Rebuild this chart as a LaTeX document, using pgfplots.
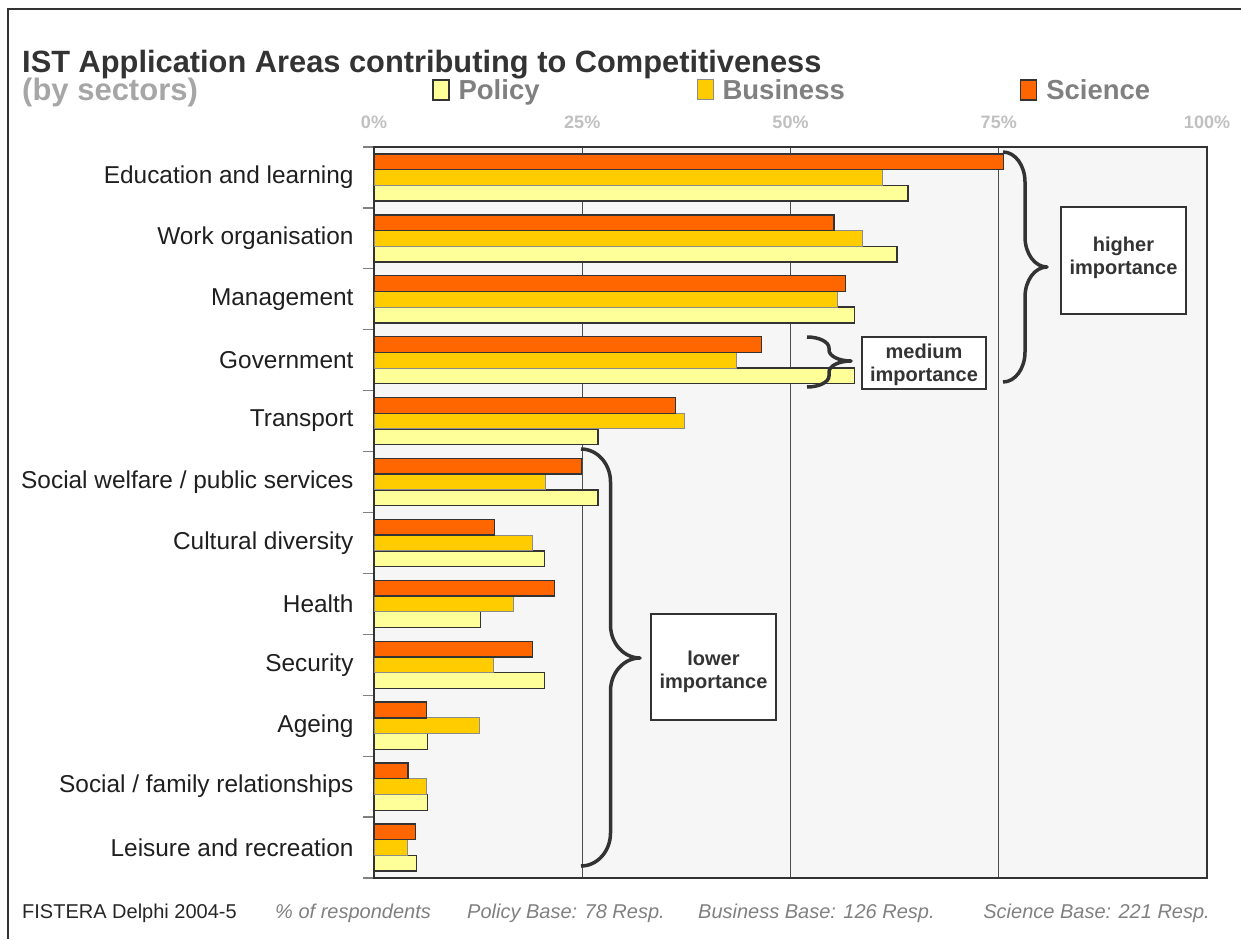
\documentclass[border=0pt]{standalone}
\usepackage{fontspec}
\setmainfont{Liberation Sans}
\usepackage{pgfplots}
\usepackage{pgfplotstable}
\pgfplotsset{compat=1.18}
\definecolor{sci}{HTML}{FF6600}
\definecolor{bus}{HTML}{FFCC00}
\definecolor{pol}{HTML}{FFFF99}
\definecolor{dk}{HTML}{333333}
\definecolor{plotbg}{HTML}{F6F6F6}
\definecolor{legtxt}{HTML}{808080}
\definecolor{subt}{HTML}{A6A6A6}
\definecolor{ticktxt}{HTML}{C0C0C0}
\newcommand{\fs}[1]{\fontsize{#1}{#1}\selectfont}
% x0, yTop, yMid, yBottom, half width, radius  (image coordinates)
\newcommand{\imbrace}[6]{%
 \draw[dk, line width=3.5pt, line join=round] (#1,#2) .. controls ({#1+0.552*#5},#2) and ({#1+#5},{#2+0.448*#6}) .. ({#1+#5},{#2+#6})
 -- ({#1+#5},{#3-#6}) .. controls ({#1+#5},{#3-0.448*#6}) and ({#1+1.448*#5},#3) .. ({#1+2*#5},#3)
 .. controls ({#1+1.448*#5},#3) and ({#1+#5},{#3+0.448*#6}) .. ({#1+#5},{#3+#6})
 -- ({#1+#5},{#4-#6}) .. controls ({#1+#5},{#4-0.448*#6}) and ({#1+0.552*#5},#4) .. (#1,#4);}

% y: 11 = Education and learning ... 0 = Leisure and recreation
\pgfplotstableread{
y v
11 64.1
10 62.8
9 57.7
8 57.7
7 26.9
6 26.9
5 20.5
4 12.8
3 20.5
2 6.4
1 6.4
0 5.1
}\policy
\pgfplotstableread{
y v
11 61.1
10 58.7
9 55.6
8 43.5
7 37.3
6 20.6
5 19.0
4 16.7
3 14.3
2 12.7
1 6.3
0 4.0
}\business
\pgfplotstableread{
y v
11 75.6
10 55.2
9 56.6
8 46.5
7 36.2
6 24.9
5 14.5
4 21.7
3 19.0
2 6.3
1 4.1
0 5.0
}\science

\begin{document}
\begin{tikzpicture}
\begin{scope}[x=1pt,y=-1pt]
\path[use as bounding box] (0,0) rectangle (1241,939);
\draw[dk, line width=2.5pt] (1241,9) -- (8,9) -- (8,939);
\node[anchor=base west, inner sep=0pt, text=dk] at (22,73) {\bfseries\fs{30.8}IST Application Areas contributing to Competitiveness};
\node[anchor=base west, inner sep=0pt, text=subt] at (22,101) {\bfseries\fs{31}(by sectors)};
\end{scope}

\begin{axis}[
  at={(374pt,-878pt)}, anchor=south west,
  scale only axis, width=833pt, height=731pt,
  xmin=0, xmax=100, ymin=-0.5, ymax=11.5,
  axis background/.style={fill=plotbg},
  axis line style={draw=dk, line width=1.5pt},
  xbar, bar width=0.258,
  xtick={0,25,50,75,100}, xticklabels={0\%,25\%,50\%,75\%,100\%},
  xticklabel pos=upper, xtick pos=upper,
  xticklabel style={font=\bfseries\fs{18}, text=ticktxt, yshift=15pt},
  xmajorgrids, grid style={draw=black!70, line width=0.8pt},
  ytick={0,...,11},
  yticklabels={Leisure and recreation, Social / family relationships, Ageing, Security, Health, Cultural diversity, Social welfare / public services, Transport, Government, Management, Work organisation, Education and learning},
  yticklabel style={font=\fs{24.4}, text=black!88, xshift=-17pt},
  ytick pos=left,
  minor ytick={-0.5,0.5,...,11.5},
  major tick length=0pt, minor tick length=11pt, tick align=outside,
  every minor tick/.append style={draw=gray, line width=1.2pt},
  legend columns=3,
  legend style={at={(0.0696,1.078)}, anchor=west, draw=none, fill=none, inner sep=0pt,
    font=\bfseries\fs{27.5}, text=legtxt,
    /tikz/column 2/.append style={column sep=155pt},
    /tikz/column 4/.append style={column sep=173pt}},
  legend image code/.code={\draw[#1] (0pt,-10pt) rectangle (16pt,10pt); \path (23pt,0pt);},
]
\addplot[fill=pol, draw=dk, line width=1.4pt, bar shift=-0.258] table[x=v,y=y] {\policy};
\addlegendentry{Policy}
\addplot[fill=bus, draw=black!45, line width=1pt, bar shift=0] table[x=v,y=y] {\business};
\addlegendentry{Business}
\addplot[fill=sci, draw=dk, line width=1.4pt, bar shift=0.258] table[x=v,y=y] {\science};
\addlegendentry{Science}
\end{axis}

\begin{scope}[x=1pt,y=-1pt]
% braces
\imbrace{1003}{152}{267}{382}{22}{30}
\imbrace{807}{337}{361}{387}{22}{11}
\imbrace{581}{449}{658}{866}{29.5}{33}
% boxes
\draw[draw=dk, line width=2pt, fill=white] (1061,207) rectangle (1186,314);
\node[align=center, text=dk, font=\bfseries\fs{20}, inner sep=0pt] at (1123.5,258) {higher\\[2.7pt]importance};
\draw[draw=dk, line width=2pt, fill=white] (862,337) rectangle (986,389);
\node[align=center, text=dk, font=\bfseries\fs{20}, inner sep=0pt] at (924,365) {medium\\[2.7pt]importance};
\draw[draw=dk, line width=2pt, fill=white] (651,614) rectangle (776,720);
\node[align=center, text=dk, font=\bfseries\fs{20}, inner sep=0pt] at (713.5,672) {lower\\[2.7pt]importance};
% footer
\node[anchor=base west, inner sep=0pt, text=black!85] at (22,918) {\fs{20}FISTERA Delphi 2004-5};
\node[anchor=base west, inner sep=0pt, text=legtxt] at (275,918) {\fs{20}\itshape\% of respondents};
\node[anchor=base west, inner sep=0pt, text=legtxt] at (467,918) {\fs{20}\itshape Policy Base: 78 Resp.};
\node[anchor=base west, inner sep=0pt, text=legtxt] at (698,918) {\fs{20}\itshape Business Base: 126 Resp.};
\node[anchor=base east, inner sep=0pt, text=legtxt] at (1210,918) {\fs{20}\itshape Science Base: 221 Resp.};
\end{scope}
\end{tikzpicture}
\end{document}
